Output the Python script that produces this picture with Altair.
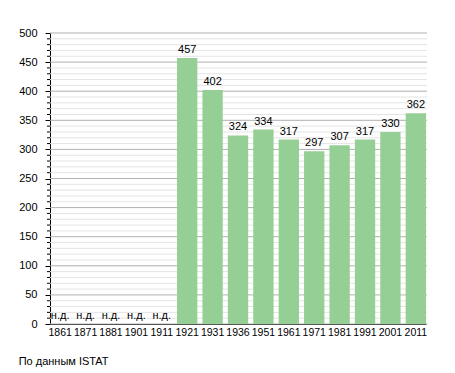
import altair as alt
import pandas as pd

years = ["1861", "1871", "1881", "1901", "1911", "1921", "1931", "1936",
         "1951", "1961", "1971", "1981", "1991", "2001", "2011"]
values = [None, None, None, None, None, 457, 402, 324, 334, 317, 297, 307, 317, 330, 362]
missing_label = "н.д."
source_note = "По данным ISTAT"
minor_ticks = list(range(0, 501, 10))
major_ticks = list(range(0, 501, 50))

df = pd.DataFrame({"year": years, "value": values})
df["label"] = [str(v) if v is not None else missing_label for v in values]
df["ypos"] = [v if v is not None else 0 for v in values]

minor_df = pd.DataFrame({"v": [t for t in minor_ticks if t % 50 != 0]})
major_df = pd.DataFrame({"v": major_ticks})

FONT = "Liberation Sans"

xscale = alt.Scale(domain=years, paddingInner=0.2, paddingOuter=0)
yscale = alt.Scale(domain=[0, 500], nice=False)

yaxis = alt.Axis(title=None, values=major_ticks, grid=False, domainColor="black",
                 tickColor="black", tickSize=5, labelFont=FONT, labelFontSize=11,
                 labelColor="black", labelPadding=8, labelOverlap=False)

x_enc = alt.X("year:N", scale=xscale, sort=years,
              axis=alt.Axis(title=None, labelAngle=0, ticks=False, domain=True,
                            domainColor="black", labelFont=FONT, labelFontSize=10.5,
                            labelColor="black", labelPadding=3, grid=False))

minor_grid = alt.Chart(minor_df).mark_rule(color="#e4e4e4", strokeWidth=1).encode(
    y=alt.Y("v:Q", scale=yscale, axis=yaxis), x=alt.value(0), x2=alt.value(377))
major_grid = alt.Chart(major_df).mark_rule(color="#b0b0b0", strokeWidth=1).encode(
    y=alt.Y("v:Q", scale=yscale, axis=yaxis), x=alt.value(0), x2=alt.value(377))
minor_tick_marks = alt.Chart(minor_df).mark_rule(color="black", strokeWidth=1).encode(
    y=alt.Y("v:Q", scale=yscale, axis=yaxis), x=alt.value(-3), x2=alt.value(0))

bars = alt.Chart(df).mark_bar(color="#95cf95").encode(
    x=x_enc,
    y=alt.Y("value:Q", scale=yscale, axis=yaxis))

labels = alt.Chart(df).mark_text(baseline="bottom", dy=-3, font=FONT, fontSize=11,
                                 color="black").encode(
    x=alt.X("year:N", scale=xscale, sort=years),
    y=alt.Y("ypos:Q", scale=yscale, axis=yaxis),
    text="label:N")

chart = alt.layer(minor_grid, major_grid, minor_tick_marks, bars, labels).properties(
    width=376, height=291,
    padding={"left": 42, "top": 25, "right": 20, "bottom": 55},
    autosize=alt.AutoSizeParams(type="none"),
    title=alt.TitleParams(source_note, orient="bottom", anchor="start", offset=18,
                          font=FONT, fontSize=11, fontWeight="normal", color="black"),
).configure_view(stroke=None)

chart.save("out.html", embed_options={"renderer": "svg", "actions": False})
